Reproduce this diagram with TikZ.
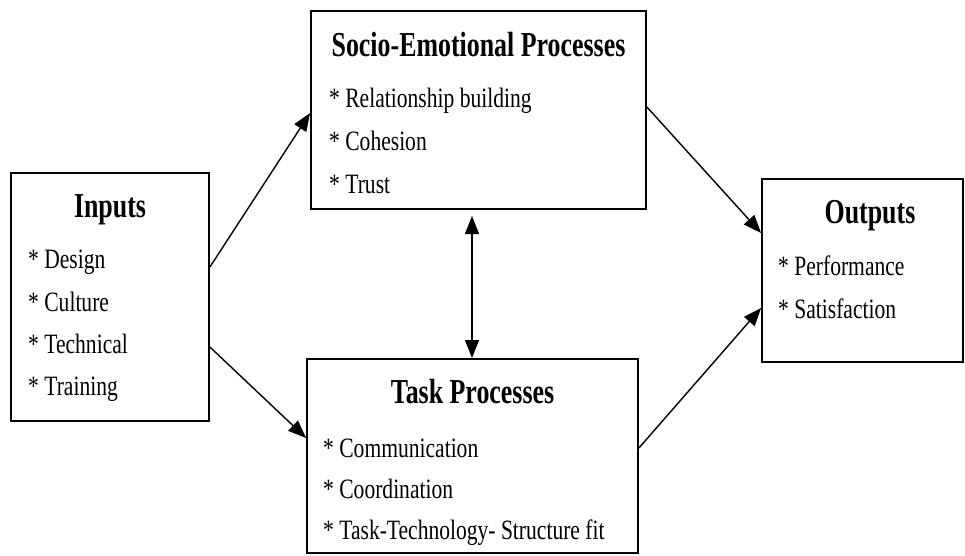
\documentclass[tikz,border=0pt]{standalone}
\usepackage{fontspec}
\setmainfont{Liberation Serif}[FakeStretch=0.77]
\newfontfamily\ttlfont{Liberation Serif}[FakeStretch=0.74]
\usetikzlibrary{arrows.meta}
\begin{document}
\begin{tikzpicture}[x=1pt,y=-1pt,
  boxst/.style={draw=black, line width=1.8pt, inner sep=0pt, rectangle},
  ttl/.style={anchor=base, inner sep=0pt, font=\ttlfont\fontsize{35}{35}\selectfont\bfseries},
  itm/.style={anchor=base west, inner sep=0pt, font=\fontsize{28}{28}\selectfont},
  conn/.style={line width=1.4pt, -{Triangle[length=18pt,width=14pt]}},
  dconn/.style={line width=1.4pt, {Triangle[length=18pt,width=14pt]}-{Triangle[length=18pt,width=14pt]}}]
\fill[white] (0,0) rectangle (965,555);
\useasboundingbox (0,0) rectangle (965,555);
% boxes
\node[boxst, minimum width=198pt, minimum height=248pt] (inp) at (110,297) {};
\node[boxst, minimum width=335pt, minimum height=198pt] (soc) at (478.5,110) {};
\node[boxst, minimum width=331pt, minimum height=194pt] (task) at (472.5,456) {};
\node[boxst, minimum width=201pt, minimum height=183pt] (out) at (862.5,270.5) {};
% Inputs text
\node[ttl] (inpT) at (110,217) {Inputs};
\node[itm] (inp1) at (28,268) {* Design};
\node[itm] (inp2) at (28,311) {* Culture};
\node[itm] (inp3) at (28,353) {* Technical};
\node[itm] (inp4) at (28,395) {* Training};
% Socio text
\node[ttl] (socT) at (478.5,56) {Socio-Emotional Processes};
\node[itm] (soc1) at (329,107) {* Relationship building};
\node[itm] (soc2) at (329,150) {* Cohesion};
\node[itm] (soc3) at (329,193) {* Trust};
% Task text
\node[ttl] (taskT) at (472.5,403) {Task Processes};
\node[itm] (task1) at (323,457) {* Communication};
\node[itm] (task2) at (323,498) {* Coordination};
\node[itm] (task3) at (323,539) {* Task-Technology- Structure fit};
% Outputs text
\node[ttl] (outT) at (870,223) {Outputs};
\node[itm] (out1) at (778,275) {* Performance};
\node[itm] (out2) at (778,318) {* Satisfaction};
% connector end points
\coordinate (a1s) at (inp.east |- 0,267);
\coordinate (a1e) at (soc.west |- 0,113);
\coordinate (a2s) at (inp.east |- 0,347);
\coordinate (a2e) at (task.west |- 0,438);
\coordinate (a3s) at (soc.east |- 0,107);
\coordinate (a3e) at (out.west |- 0,233);
\coordinate (a4s) at (task.east |- 0,448);
\coordinate (a4e) at (out.west |- 0,308);
\coordinate (a5s) at (472,216);
\coordinate (a5e) at (472,358);
\draw[conn] (a1s) -- (a1e);
\draw[conn] (a2s) -- (a2e);
\draw[conn] (a3s) -- (a3e);
\draw[conn] (a4s) -- (a4e);
\draw[dconn] (a5s) -- (a5e);
\end{tikzpicture}
\end{document}
